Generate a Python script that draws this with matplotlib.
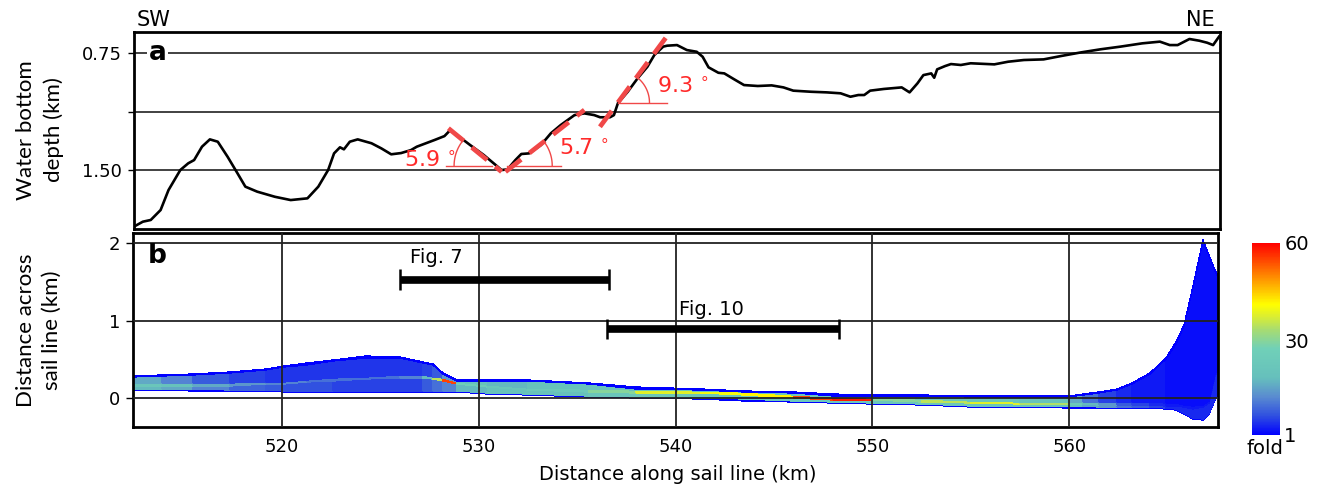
import numpy as np
import matplotlib
matplotlib.use("Agg")
import matplotlib.pyplot as plt
from matplotlib.colors import LinearSegmentedColormap, Normalize

# ---------------- data: panel a (water-bottom depth profile) ----------------
depth_x = [512.5, 512.6, 512.9, 513.3, 513.8, 514.2, 514.8, 515.2, 515.5, 515.9,
           516.3, 516.7, 517.2, 517.7, 518.1, 518.7, 519.6, 520.4, 521.25, 521.8,
           522.3, 522.6, 522.9, 523.1, 523.4, 523.8, 524.5, 525.0, 525.5, 526.0,
           526.5, 526.8, 527.7, 528.2, 528.5, 528.95, 529.5, 530.2, 530.7, 531.1,
           531.4, 531.8, 532.1, 532.5, 533.1, 533.6, 534.1, 534.8, 535.3, 535.8,
           536.1, 536.6, 536.8, 537.0, 537.5, 538.0, 538.5, 538.85, 539.3, 539.5,
           540.0, 540.5, 541.0, 541.3, 541.6, 542.1, 542.4, 542.9, 543.4, 544.1,
           544.8, 545.4, 545.9, 546.8, 547.6, 548.3, 548.8, 549.2, 549.5, 549.8,
           550.5, 551.4, 551.8, 552.2, 552.5, 552.9, 553.05, 553.2, 553.6, 553.9,
           554.4, 554.9, 556.1, 556.8, 557.6, 558.6, 559.5, 560.5, 561.5, 562.5,
           563.6, 564.5, 565.0, 565.4, 566.0, 566.5, 566.9, 567.2, 567.5]
depth_km = [1.860, 1.853, 1.832, 1.821, 1.757, 1.629, 1.500, 1.457, 1.436, 1.350,
            1.303, 1.318, 1.415, 1.521, 1.607, 1.639, 1.672, 1.693, 1.682, 1.607,
            1.500, 1.393, 1.354, 1.367, 1.318, 1.303, 1.328, 1.361, 1.399, 1.391,
            1.372, 1.350, 1.307, 1.282, 1.243, 1.286, 1.339, 1.404, 1.457, 1.500,
            1.496, 1.436, 1.397, 1.393, 1.339, 1.264, 1.211, 1.147, 1.136, 1.147,
            1.161, 1.161, 1.147, 1.071, 0.997, 0.911, 0.836, 0.761, 0.707, 0.701,
            0.697, 0.729, 0.740, 0.772, 0.840, 0.875, 0.879, 0.917, 0.954, 0.960,
            0.956, 0.969, 0.990, 0.997, 1.001, 1.007, 1.029, 1.018, 1.018, 0.990,
            0.979, 0.969, 1.001, 0.943, 0.890, 0.879, 0.907, 0.853, 0.832, 0.819,
            0.825, 0.814, 0.821, 0.804, 0.793, 0.789, 0.767, 0.744, 0.724, 0.707,
            0.686, 0.675, 0.697, 0.697, 0.658, 0.669, 0.682, 0.697, 0.643]

depth_ticks = [0.75, 1.125, 1.50]
depth_ticklabels = ["0.75", "", "1.50"]

# slope fits (red dashed), reference horizontals and angle labels
slope_x = [[528.4, 531.1], [531.3, 535.3], [536.09, 539.45]]
slope_d = [[1.232, 1.511], [1.511, 1.114], [1.222, 0.647]]
horiz_x = [[528.3, 530.6], [531.4, 534.1], [537.0, 539.5]]
horiz_d = [1.472, 1.472, 1.067]
arc_vertex_x = [530.72, 531.69, 536.98]
arc_vertex_d = [1.472, 1.472, 1.067]
angle_labels = ["5.9", "5.7", "9.3"]
angle_label_x = [526.14, 534.0, 539.0]
angle_label_d = [1.436, 1.359, 0.960]

# ---------------- data: panel b (fold coverage) ----------------
cov_x = [512.4, 513.9, 515.5, 517.4, 519.2, 520.1, 521.3, 522.6, 524.3, 526.0,
         527.2, 527.7, 528.2, 528.9, 530.5, 532.5, 535.6, 538.0, 541.3, 543.5,
         546.0, 548.0, 550.0, 552.5, 555.0, 557.5, 560.0, 560.7, 561.5, 562.4,
         563.2, 564.1, 564.9, 565.4, 565.8, 566.3, 566.8, 567.1, 567.4, 567.6]
cov_top = [0.29, 0.30, 0.31, 0.34, 0.38, 0.42, 0.45, 0.49, 0.54, 0.53,
           0.47, 0.44, 0.33, 0.24, 0.24, 0.24, 0.20, 0.14, 0.12, 0.10,
           0.08, 0.05, 0.04, 0.04, 0.03, 0.03, 0.03, 0.06, 0.08, 0.12,
           0.20, 0.33, 0.52, 0.72, 0.95, 1.45, 2.04, 1.85, 1.65, 1.55]
cov_bot = [0.11, 0.11, 0.10, 0.09, 0.09, 0.08, 0.08, 0.08, 0.08, 0.08,
           0.08, 0.08, 0.08, 0.08, 0.05, 0.04, 0.02, 0.00, -0.01, -0.03,
           -0.05, -0.06, -0.07, -0.09, -0.11, -0.11, -0.12, -0.12, -0.13, -0.13,
           -0.13, -0.13, -0.14, -0.15, -0.20, -0.27, -0.28, -0.20, -0.02, 0.08]
cov_mid = [0.18, 0.18, 0.18, 0.18, 0.20, 0.20, 0.22, 0.24, 0.26, 0.28,
           0.28, 0.26, 0.24, 0.20, 0.16, 0.12, 0.10, 0.09, 0.08, 0.06,
           0.02, 0.00, -0.01, -0.03, -0.05, -0.06, -0.06, -0.06, -0.07, -0.07,
           -0.07, -0.07, -0.08, -0.08, -0.10, -0.12, -0.10, -0.05, 0.30, 0.40]
fold_lower = [18, 16, 12, 9, 8, 7, 7, 6, 6, 6, 8, 10, 12, 18, 20, 20, 22, 22, 22, 24,
              24, 24, 22, 22, 22, 22, 20, 16, 14, 10, 8, 6, 4, 4, 4, 4, 4, 4, 4]
fold_streak = [22, 20, 16, 14, 12, 12, 10, 10, 10, 12, 18, 35, 55, 26, 22, 24, 30, 38, 40, 42,
               55, 58, 30, 35, 38, 34, 24, 18, 14, 8, 6, 4, 3, 3, 3, 3, 3, 3, 3]
fold_upper = [16, 12, 8, 6, 5, 5, 5, 5, 5, 5, 6, 8, 14, 20, 18, 20, 20, 22, 22, 22,
              24, 24, 22, 22, 22, 20, 16, 10, 6, 4, 3, 3, 2, 2, 2, 2, 2, 2, 2]

fold_ticks = [1, 30, 60]
across_ticks = [0, 1, 2]
along_ticks = [520, 530, 540, 550, 560]

fig7_range = [526.0, 536.6]
fig7_y = 1.53
fig10_range = [536.5, 548.3]
fig10_y = 0.894

# ---------------- figure ----------------
W, H = 1320, 491
fig = plt.figure(figsize=(W / 100, H / 100), dpi=100)

def box(l, t, r, b):
    return [l / W, 1 - b / H, (r - l) / W, (b - t) / H]

axa = fig.add_axes(box(134, 32, 1220, 229))
axb = fig.add_axes(box(133, 233, 1218, 427))
cax = fig.add_axes(box(1252, 243, 1280, 435))

XLIM = (512.45, 567.55)
red = "#f04848"

# ---- panel a ----
axa.set_xlim(*XLIM)
axa.set_ylim(1.879, 0.613)
axa.set_axisbelow(True)
axa.grid(True, axis="y", color="#333333", lw=1.3)
axa.set_yticks(depth_ticks)
axa.set_yticklabels(depth_ticklabels)
axa.set_xticks([])
axa.tick_params(axis="y", labelsize=13, length=4, width=1, pad=5)
for s in axa.spines.values():
    s.set_linewidth(2)

axa.plot(depth_x, depth_km, color="black", lw=1.9, zorder=3)
for sx, sd in zip(slope_x, slope_d):
    axa.plot(sx, sd, color=red, lw=3.4, dashes=(4.2, 2.2), zorder=4,
             solid_capstyle="butt", dash_capstyle="butt")
for hx, hd in zip(horiz_x, horiz_d):
    axa.plot(hx, [hd, hd], color=red, lw=1.0, zorder=4)

fig.canvas.draw()
arc_specs = [(40, 141, 180), (39, 0, 38), (32, 0, 54)]
for (vx, vd, (r, a0, a1)) in zip(arc_vertex_x, arc_vertex_d, arc_specs):
    cx, cy = axa.transData.transform((vx, vd))
    th = np.radians(np.linspace(a0, a1, 40))
    pts = np.column_stack([cx + r * np.cos(th), cy + r * np.sin(th)])
    dpts = axa.transData.inverted().transform(pts)
    axa.plot(dpts[:, 0], dpts[:, 1], color=red, lw=1.0, zorder=4)

for lab, lx, ld in zip(angle_labels, angle_label_x, angle_label_d):
    axa.text(lx, ld, lab + r" $^{\circ}$", color="#ff2a2a", fontsize=16,
             ha="left", va="center", zorder=5)

axa.text(513.2, 0.75, "a", fontsize=19, fontweight="bold", ha="left",
         va="center", zorder=5,
         bbox=dict(facecolor="white", edgecolor="none", pad=1.0))

# ---- panel b ----
cmap = LinearSegmentedColormap.from_list("fold", [
    (0.00, "#0000ff"), (0.10, "#3050e0"), (0.20, "#5a8cd0"), (0.30, "#66c0bc"),
    (0.45, "#70d0b8"), (0.55, "#a8dc70"), (0.62, "#dcee30"), (0.68, "#ffff00"),
    (0.80, "#ffa000"), (0.90, "#ff5000"), (1.00, "#ff0000")])
norm = Normalize(vmin=1, vmax=60)

fr, hw = 0.015, 0.016
bot = np.array(cov_bot)
top = np.array(cov_top)
mid = np.array(cov_mid)
X = np.tile(np.array(cov_x), (6, 1))
Y = np.vstack([bot, bot + fr, mid - hw, mid + hw, top - fr, top])
ones = np.ones(len(fold_lower))
C = np.vstack([ones, fold_lower, fold_streak, fold_upper, ones])
mesh = axb.pcolormesh(X, Y, C, cmap=cmap, norm=norm, shading="flat",
                      edgecolors="face", linewidth=0.2, zorder=1)

axb.set_xlim(*XLIM)
axb.set_ylim(-0.37, 2.13)
axb.set_axisbelow(False)
axb.grid(True, color="#222222", lw=1.3)
axb.set_xticks(along_ticks)
axb.set_yticks(across_ticks)
axb.tick_params(axis="x", labelsize=13, length=0, pad=8)
axb.tick_params(axis="y", labelsize=13, length=5, width=1, pad=4)
for s in axb.spines.values():
    s.set_linewidth(2)

for (x0, x1), yb, lab, tx, ty in [(fig7_range, fig7_y, "Fig. 7", 526.5, 1.81),
                                  (fig10_range, fig10_y, "Fig. 10", 540.2, 1.14)]:
    axb.hlines(yb, x0, x1, color="black", lw=5.5, zorder=4)
    axb.vlines([x0, x1], yb - 0.13, yb + 0.13, color="black", lw=1.8, zorder=4)
    axb.text(tx, ty, lab, fontsize=14, ha="left", va="center", zorder=5)

axb.text(513.2, 1.84, "b", fontsize=19, fontweight="bold", ha="left",
         va="center", zorder=5)

cb = fig.colorbar(mesh, cax=cax, ticks=fold_ticks)
cb.outline.set_visible(False)
cax.tick_params(length=0, labelsize=14, pad=3)
fig.text(1265 / W, 1 - 448 / H, "fold", ha="center", va="center", fontsize=14)

# ---- labels ----
fig.text(137 / W, 1 - 20 / H, "SW", ha="left", va="center", fontsize=15)
fig.text(1215 / W, 1 - 20 / H, "NE", ha="right", va="center", fontsize=15)
fig.text(40 / W, 1 - 130 / H, "Water bottom\ndepth (km)", rotation=90,
         ha="center", va="center", fontsize=16, family="Lato",
         linespacing=1.4, multialignment="center")
fig.text(39 / W, 1 - 330 / H, "Distance across\nsail line (km)", rotation=90,
         ha="center", va="center", fontsize=16, family="Lato",
         linespacing=1.4, multialignment="center")
fig.text(678 / W, 1 - 475 / H, "Distance along sail line (km)", ha="center",
         va="center", fontsize=14)

fig.savefig("out.png", dpi=100)
